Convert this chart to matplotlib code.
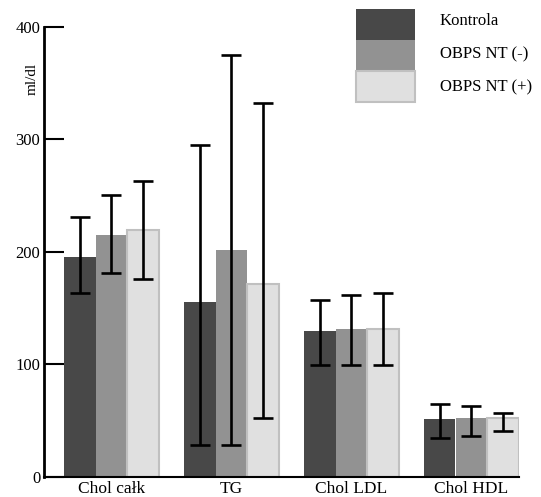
import matplotlib
matplotlib.use("Agg")
import matplotlib.pyplot as plt
from matplotlib.patches import Rectangle
import numpy as np

categories = ["Chol całk", "TG", "Chol LDL", "Chol HDL"]
series_names = ["Kontrola", "OBPS NT (-)", "OBPS NT (+)"]

kontrola_mean = [195.5, 155.5, 129.5, 51.5]
kontrola_upper = [231, 295, 157, 65]
kontrola_lower = [163, 28, 99, 34.5]

obps_minus_mean = [215, 201.5, 131, 52.3]
obps_minus_upper = [251, 375, 162, 63.3]
obps_minus_lower = [181.5, 28, 99, 36]

obps_plus_mean = [219, 171, 131, 52.3]
obps_plus_upper = [263, 332, 163.5, 57]
obps_plus_lower = [176, 52, 99, 40.6]

yticks = [0, 100, 200, 300, 400]
ylabel = "ml/dl"

colors = ["#484848", "#929292", "#e0e0e0"]
edgecolors = ["#484848", "#929292", "#c0c0c0"]

W, H = 541, 497
fig = plt.figure(figsize=(W / 100, H / 100), dpi=100)
plt.rcParams["font.family"] = ["Liberation Serif", "DejaVu Serif"]

# axes placement in pixels
left_px, right_px = 44.3, 519.3
bottom_px, top_px = 476.7, 27.0
ax = fig.add_axes([left_px / W, (H - bottom_px) / H,
                   (right_px - left_px) / W, (bottom_px - top_px) / H])

means = [kontrola_mean, obps_minus_mean, obps_plus_mean]
uppers = [kontrola_upper, obps_minus_upper, obps_plus_upper]
lowers = [kontrola_lower, obps_minus_lower, obps_plus_lower]

bw = 31.7 / 120.0
x = np.arange(len(categories))
for i in range(3):
    xi = x + (i - 1) * bw
    m = np.array(means[i], dtype=float)
    up = np.array(uppers[i], dtype=float)
    lo = np.array(lowers[i], dtype=float)
    ax.bar(xi, m, width=bw, color=colors[i], edgecolor=edgecolors[i],
           linewidth=1.5 if i == 2 else 0, zorder=2)
    ax.errorbar(xi, m, yerr=[m - lo, up - m], fmt="none", ecolor="black",
                elinewidth=1.9, capsize=7, capthick=1.9, zorder=3)

g0 = 111.35
ax.set_xlim((left_px - g0) / 120.0, (right_px - g0) / 120.0)
ax.set_ylim(0, 400)
ax.set_yticks(yticks)
ax.set_yticklabels([str(t) for t in yticks], fontsize=12)
ax.set_xticks(x)
ax.set_xticklabels(categories, fontsize=12.5)
ax.tick_params(axis="y", direction="in", length=14.5, width=1.5, pad=3)
ax.tick_params(axis="x", length=0, pad=3)
for s in ["top", "right"]:
    ax.spines[s].set_visible(False)
ax.spines["left"].set_linewidth(2)
ax.spines["bottom"].set_linewidth(1.5)

fig.text(32 / W, 1 - 79 / H, ylabel, rotation=90, ha="center", va="center",
         fontsize=11)

# legend
patch_boxes = [(9, 40), (40, 71), (71, 102)]
text_y = [21, 54, 87]
for i, name in enumerate(series_names):
    y0, y1 = patch_boxes[i]
    fig.patches.append(Rectangle((356 / W, 1 - y1 / H), 59 / W, (y1 - y0) / H,
                                 transform=fig.transFigure,
                                 facecolor=colors[i], edgecolor=edgecolors[i],
                                 linewidth=1.5 if i == 2 else 0))
    fig.text(440 / W, 1 - text_y[i] / H, name, ha="left", va="center",
             fontsize=12)

fig.savefig("out.png", dpi=100)
